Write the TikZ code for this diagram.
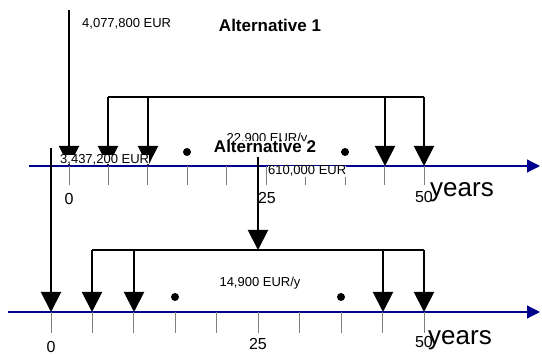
\documentclass[tikz,border=0pt]{standalone}
\usepackage{fontspec}
\setmainfont{Liberation Sans}
\usetikzlibrary{arrows.meta}
\definecolor{axisblue}{RGB}{0,0,140}
\begin{document}
\begin{tikzpicture}[x=1pt, y=-1pt,
    axis/.style={draw=axisblue, line width=1.2pt, -{Triangle[width=13pt,length=13pt]}},
    tickline/.style={draw=gray, line width=0.8pt},
    cash/.style={line width=2pt, -{Triangle[width=20pt,length=20pt]}},
    bracket/.style={line width=1.6pt},
    dot/.style={circle, fill, inner sep=0pt, minimum size=8pt},
    amount/.style={font=\fontsize{13}{15}\selectfont, inner sep=0pt},
    title/.style={font=\fontsize{17}{20}\selectfont\bfseries, inner sep=0pt},
    yearlbl/.style={font=\fontsize{16}{18}\selectfont, inner sep=0pt},
    unit/.style={font=\fontsize{26}{30}\selectfont, inner sep=0pt}]

    \useasboundingbox (0,0) rectangle (542,355);

    % Axes
    \coordinate (axa) at (29,166);
    \coordinate (axb) at (540,166);
    \coordinate (bxa) at (8,312);
    \coordinate (bxb) at (540,312);
    \draw[axis] (axa) -- (axb);
    \draw[axis] (bxa) -- (bxb);

    % Ticks
    \foreach \i in {0,...,9} {
        \draw[tickline] (69+39.44*\i,166) -- ++(0,19);
        \draw[tickline] (51+41.44*\i,312) -- ++(0,21);
    }

    % Alternative 1: points
    \coordinate (inv1) at (69,10);
    \coordinate (y0a) at (69,166);
    \coordinate (top1a) at (108,97);
    \coordinate (top2a) at (148,97);
    \coordinate (top3a) at (385,97);
    \coordinate (top4a) at (424,97);
    \coordinate (y1a) at (108,166);
    \coordinate (y2a) at (148,166);
    \coordinate (y3a) at (385,166);
    \coordinate (y4a) at (424,166);

    % Alternative 1: arrows
    \draw[cash] (inv1) -- (y0a);
    \draw[bracket] (top1a) -- (top4a);
    \draw[cash] (top1a) -- (y1a);
    \draw[cash] (top2a) -- (y2a);
    \draw[cash] (top3a) -- (y3a);
    \draw[cash] (top4a) -- (y4a);
    \node[dot] (dot1a) at (187,152) {};
    \node[dot] (dot2a) at (345,152) {};

    % Alternative 2: points
    \coordinate (inv2) at (51,148);
    \coordinate (y0b) at (51,312);
    \coordinate (rep2) at (258,157);
    \coordinate (y25b) at (258,250);
    \coordinate (top1b) at (92,250);
    \coordinate (top2b) at (134,250);
    \coordinate (top3b) at (383,250);
    \coordinate (top4b) at (424,250);
    \coordinate (y1b) at (92,312);
    \coordinate (y2b) at (134,312);
    \coordinate (y3b) at (383,312);
    \coordinate (y4b) at (424,312);

    % Alternative 2: arrows
    \draw[cash] (inv2) -- (y0b);
    \draw[cash] (rep2) -- (y25b);
    \draw[bracket] (top1b) -- (top4b);
    \draw[cash] (top1b) -- (y1b);
    \draw[cash] (top2b) -- (y2b);
    \draw[cash] (top3b) -- (y3b);
    \draw[cash] (top4b) -- (y4b);
    \node[dot] (dot1b) at (175,297) {};
    \node[dot] (dot2b) at (341,297) {};

    % Labels
    \node[amount, anchor=base west] (cost1) at (82,28) {4,077,800 EUR};
    \node[title, anchor=base] (alt1) at (270,32) {Alternative 1};
    \node[amount, anchor=base] (ann1) at (267,143) {22,900 EUR/y};
    \node[title, anchor=base, fill=white] (alt2) at (265,153) {Alternative 2};
    \node[amount, anchor=base west, fill=white, text depth=0pt] (cost2) at (60,164) {3,437,200 EUR};
    \node[amount, anchor=base west, fill=white] (repl2) at (268,175) {610,000 EUR};
    \node[amount, anchor=base] (ann2) at (260,287) {14,900 EUR/y};

    % Year labels
    \node[yearlbl, anchor=base] (n0a) at (69,205) {0};
    \node[yearlbl, anchor=base] (n25a) at (267,204) {25};
    \node[yearlbl, anchor=base] (n50a) at (424,203) {50};
    \node[unit, anchor=base west] (unita) at (430,197) {years};
    \node[yearlbl, anchor=base] (n0b) at (51,353) {0};
    \node[yearlbl, anchor=base] (n25b) at (258,350) {25};
    \node[yearlbl, anchor=base] (n50b) at (424,348) {50};
    \node[unit, anchor=base west] (unitb) at (428,345) {years};
\end{tikzpicture}
\end{document}
